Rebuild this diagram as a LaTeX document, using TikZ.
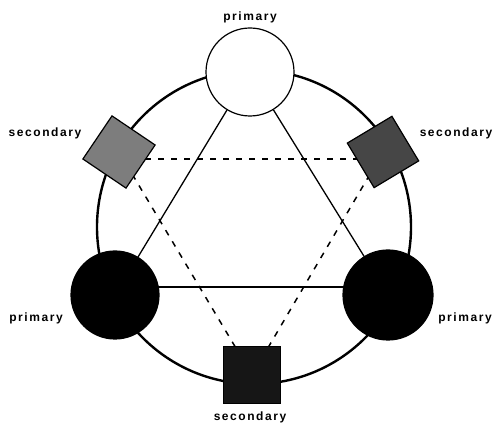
\documentclass[tikz,border=0pt]{standalone}
\usepackage{fontspec}
\setmainfont{Liberation Sans}
\newfontfamily\labelfont[LetterSpace=13]{Liberation Sans}
\usetikzlibrary{backgrounds}
\definecolor{lightgrey}{RGB}{125,125,125}
\definecolor{midgrey}{RGB}{70,70,70}
\definecolor{darkgrey}{RGB}{22,22,22}

\begin{document}
\begin{tikzpicture}[x=1pt, y=1pt,
    ring/.style={line width=2.4pt},
    primarynode/.style={circle, draw, line width=1.2pt, minimum size=88pt, inner sep=0pt},
    secondarynode/.style={rectangle, draw, line width=1.2pt, minimum size=52pt, inner sep=0pt},
    solidlink/.style={line width=1.3pt},
    dashlink/.style={line width=1.5pt, dash pattern=on 6pt off 7pt},
    lbl/.style={font=\labelfont\bfseries\fontsize{12}{14}\selectfont}]
    \useasboundingbox (0,0) rectangle (494,427);

    % Primary stations
    \node[primarynode, fill=white] (ptop) at (250,355) {};
    \node[primarynode, fill=black] (pleft) at (115,132) {};
    \node[primarynode, fill=black, minimum size=90pt] (pright) at (388,132) {};

    % Secondary stations
    \node[secondarynode, fill=lightgrey, rotate=56] (sleft) at (119,275) {};
    \node[secondarynode, fill=midgrey, rotate=31] (sright) at (383,275) {};
    \node[secondarynode, fill=darkgrey, minimum size=57pt] (sbottom) at (252,52) {};

    % Ring and links
    \begin{scope}[on background layer]
        \draw[ring] (254,200) circle (157);
        \draw[solidlink] (ptop) -- (pleft.center);
        \draw[solidlink] (ptop) -- (pright.center);
        \draw[solidlink] ([yshift=8pt]pleft.center) -- ([yshift=8pt]pright.center);
        \draw[dashlink] ([yshift=-7pt]sleft.center) -- ([yshift=-7pt]sright.center);
        \draw[dashlink] (sleft.center) -- (sbottom.center);
        \draw[dashlink] (sright.center) -- (sbottom.center);
    \end{scope}

    % Labels
    \node[lbl] (lptop) at (250,410) {primary};
    \node[lbl] (lsleft) at (45,294) {secondary};
    \node[lbl] (lsright) at (456,294) {secondary};
    \node[lbl] (lpleft) at (36,109) {primary};
    \node[lbl] (lpright) at (465,109) {primary};
    \node[lbl] (lsbottom) at (250,10) {secondary};
\end{tikzpicture}
\end{document}
